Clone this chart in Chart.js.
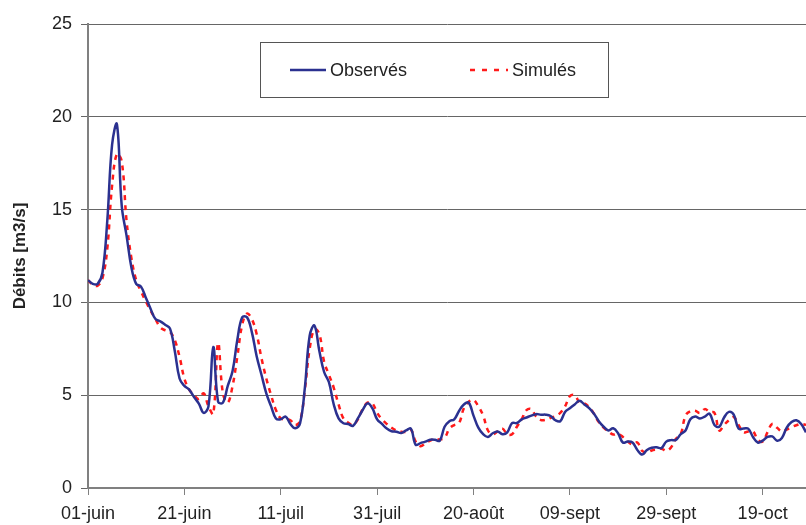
<!DOCTYPE html>
<html>
<head>
<meta charset="utf-8">
<script src="https://cdn.jsdelivr.net/npm/chart.js@4.4.1/dist/chart.umd.min.js"></script>
<style>
  html, body { margin: 0; padding: 0; background: #fff; }
  #wrap { width: 806px; height: 525px; }
</style>
</head>
<body>
<div id="wrap"><canvas id="debitsChart" width="806" height="525"></canvas></div>
<script>
// Daily discharges from 01-juin (day 0) onward
const days = Array.from({ length: 150 }, (_, i) => i);
const tickLabels = ['01-juin', '21-juin', '11-juil', '31-juil', '20-août', '09-sept', '29-sept', '19-oct'];

const observes = [
    11.2, 11.0, 11.0, 11.6, 14.4, 18.5, 19.6, 15.2, 13.6, 11.9,
    11.0, 10.85, 10.25, 9.65, 9.1, 8.98, 8.8, 8.6, 7.4, 5.9,
    5.5, 5.3, 4.9, 4.55, 4.05, 4.4, 7.6, 4.65, 4.6, 5.5,
    6.3, 8.0, 9.2, 9.2, 8.4, 7.1, 6.1, 5.1, 4.4, 3.75,
    3.7, 3.85, 3.45, 3.22, 3.48, 5.4, 8.2, 8.75, 7.4, 6.25,
    5.7, 4.5, 3.75, 3.49, 3.45, 3.35, 3.75, 4.2, 4.56, 4.3,
    3.7, 3.45, 3.2, 3.06, 3.03, 2.96, 3.1, 3.2, 2.33, 2.42,
    2.5, 2.6, 2.6, 2.55, 3.3, 3.6, 3.7, 4.15, 4.5, 4.6,
    3.9, 3.25, 2.9, 2.75, 2.95, 3.05, 2.9, 3.0, 3.5, 3.5,
    3.7, 3.8, 3.9, 3.98, 3.95, 3.95, 3.88, 3.65, 3.6, 4.1,
    4.3, 4.5, 4.7, 4.5, 4.3, 4.0, 3.6, 3.3, 3.1, 3.22,
    2.95, 2.45, 2.5, 2.45, 2.05, 1.8, 2.05, 2.17, 2.19, 2.15,
    2.5, 2.58, 2.59, 2.9, 3.1, 3.7, 3.85, 3.75, 3.85, 4.0,
    3.4, 3.3, 3.8, 4.1, 3.95, 3.2, 3.2, 3.2, 2.75, 2.45,
    2.55, 2.75, 2.78, 2.55, 2.7, 3.25, 3.55, 3.65, 3.45, 3.0
];

const simules = [
    11.2, 10.95, 10.9, 11.3, 12.9, 16.3, 18.0, 17.6, 14.4, 12.4,
    11.2, 10.6, 10.05, 9.55, 9.1, 8.65, 8.5, 8.42, 7.97, 7.07,
    5.9, 5.3, 5.0, 4.8, 5.1, 4.4, 4.0, 7.8, 5.1, 4.6,
    5.5, 7.1, 8.8, 9.4, 9.1, 8.3, 7.0, 5.9, 5.0, 4.2,
    3.75, 3.7, 3.65, 3.39, 3.6, 5.3, 7.5, 8.55, 8.3, 6.8,
    6.1, 5.4, 4.5, 3.75, 3.52, 3.4, 3.7, 4.25, 4.6, 4.56,
    4.05, 3.7, 3.45, 3.25, 3.1, 3.03, 3.03, 3.15, 2.5, 2.25,
    2.41, 2.55, 2.65, 2.62, 2.7, 3.2, 3.39, 3.5, 4.3, 4.65,
    4.75, 4.4, 3.9, 3.1, 2.9, 3.05, 3.2, 2.9, 2.9, 3.3,
    3.7, 4.2, 4.25, 3.85, 3.66, 3.68, 3.78, 3.88, 4.05, 4.4,
    4.95, 5.0, 4.62, 4.56, 4.35, 4.0, 3.55, 3.25, 3.05, 2.88,
    2.92, 2.75, 2.5, 2.35, 2.45, 2.0, 1.92, 2.02, 2.07, 2.12,
    2.0, 2.19, 2.65, 2.9, 3.9, 4.14, 4.16, 4.04, 4.25, 4.1,
    4.05, 3.1, 3.4, 3.65, 3.82, 3.4, 3.0, 3.05, 3.05, 2.6,
    2.5, 3.0, 3.45, 3.25, 3.05, 3.15, 3.28, 3.38, 3.45, 3.4
];

const yTicks = [0, 5, 10, 15, 20, 25];

const BLUE = '#2b3190';
const RED = '#ff1a1a';
const FONT = "'Liberation Sans', Arial, sans-serif";

// Legend box inside the plot, like the spreadsheet original
const boxLegend = {
    id: 'boxLegend',
    afterDraw(chart) {
        const ctx = chart.ctx;
        ctx.save();
        ctx.fillStyle = '#fff';
        ctx.fillRect(260.5, 42.5, 348, 55);
        ctx.strokeStyle = '#555';
        ctx.lineWidth = 1;
        ctx.strokeRect(260.5, 42.5, 348, 55);

        ctx.lineWidth = 2.5;
        ctx.strokeStyle = BLUE;
        ctx.beginPath(); ctx.moveTo(290, 70); ctx.lineTo(326, 70); ctx.stroke();

        ctx.strokeStyle = RED;
        ctx.setLineDash([5, 7]);
        ctx.beginPath(); ctx.moveTo(470, 70); ctx.lineTo(508, 70); ctx.stroke();
        ctx.setLineDash([]);

        ctx.fillStyle = '#222';
        ctx.font = '18px ' + FONT;
        ctx.textBaseline = 'middle';
        ctx.fillText(chart.data.datasets[0].label, 330, 71);
        ctx.fillText(chart.data.datasets[1].label, 512, 71);
        ctx.restore();
    }
};

const ctx = document.getElementById('debitsChart').getContext('2d');
const debitsChart = new Chart(ctx, {
    type: 'line',
    data: {
        labels: days,
        datasets: [{
            label: 'Observés',
            data: observes,
            borderColor: BLUE,
            borderWidth: 2.5,
            pointRadius: 0,
            tension: 0.4,
            fill: false
        }, {
            label: 'Simulés',
            data: simules,
            borderColor: RED,
            borderWidth: 2.5,
            borderDash: [5, 5],
            pointRadius: 0,
            tension: 0.4,
            fill: false
        }]
    },
    options: {
        responsive: false,
        animation: false,
        layout: { padding: { top: 24, right: 0, left: 0, bottom: 0 } },
        plugins: {
            legend: { display: false },
            tooltip: { enabled: false }
        },
        scales: {
            x: {
                type: 'linear',
                min: 0,
                max: days[days.length - 1],
                ticks: {
                    stepSize: 20,
                    includeBounds: false,
                    maxRotation: 0,
                    padding: 8,
                    color: '#222',
                    font: { family: FONT, size: 18 },
                    callback: v => tickLabels[v / 20] || ''
                },
                grid: { drawOnChartArea: false, drawTicks: true, tickLength: 7, color: '#808080' },
                border: { color: '#808080', width: 2 },
                afterFit: s => { s.height = 37; }
            },
            y: {
                min: 0,
                max: 25,
                afterBuildTicks: s => { s.ticks = yTicks.map(v => ({ value: v })); },
                ticks: {
                    padding: 9,
                    color: '#222',
                    font: { family: FONT, size: 18 }
                },
                grid: { color: '#666', lineWidth: 1, tickLength: 7 },
                border: { color: '#808080', width: 2 },
                title: {
                    display: true,
                    text: 'Débits [m3/s]',
                    color: '#222',
                    font: { family: FONT, size: 17, weight: 'bold' },
                    padding: { top: 10, bottom: 0 }
                },
                afterFit: s => { s.width = 88; }
            }
        }
    },
    plugins: [boxLegend]
});
</script>
</body>
</html>
